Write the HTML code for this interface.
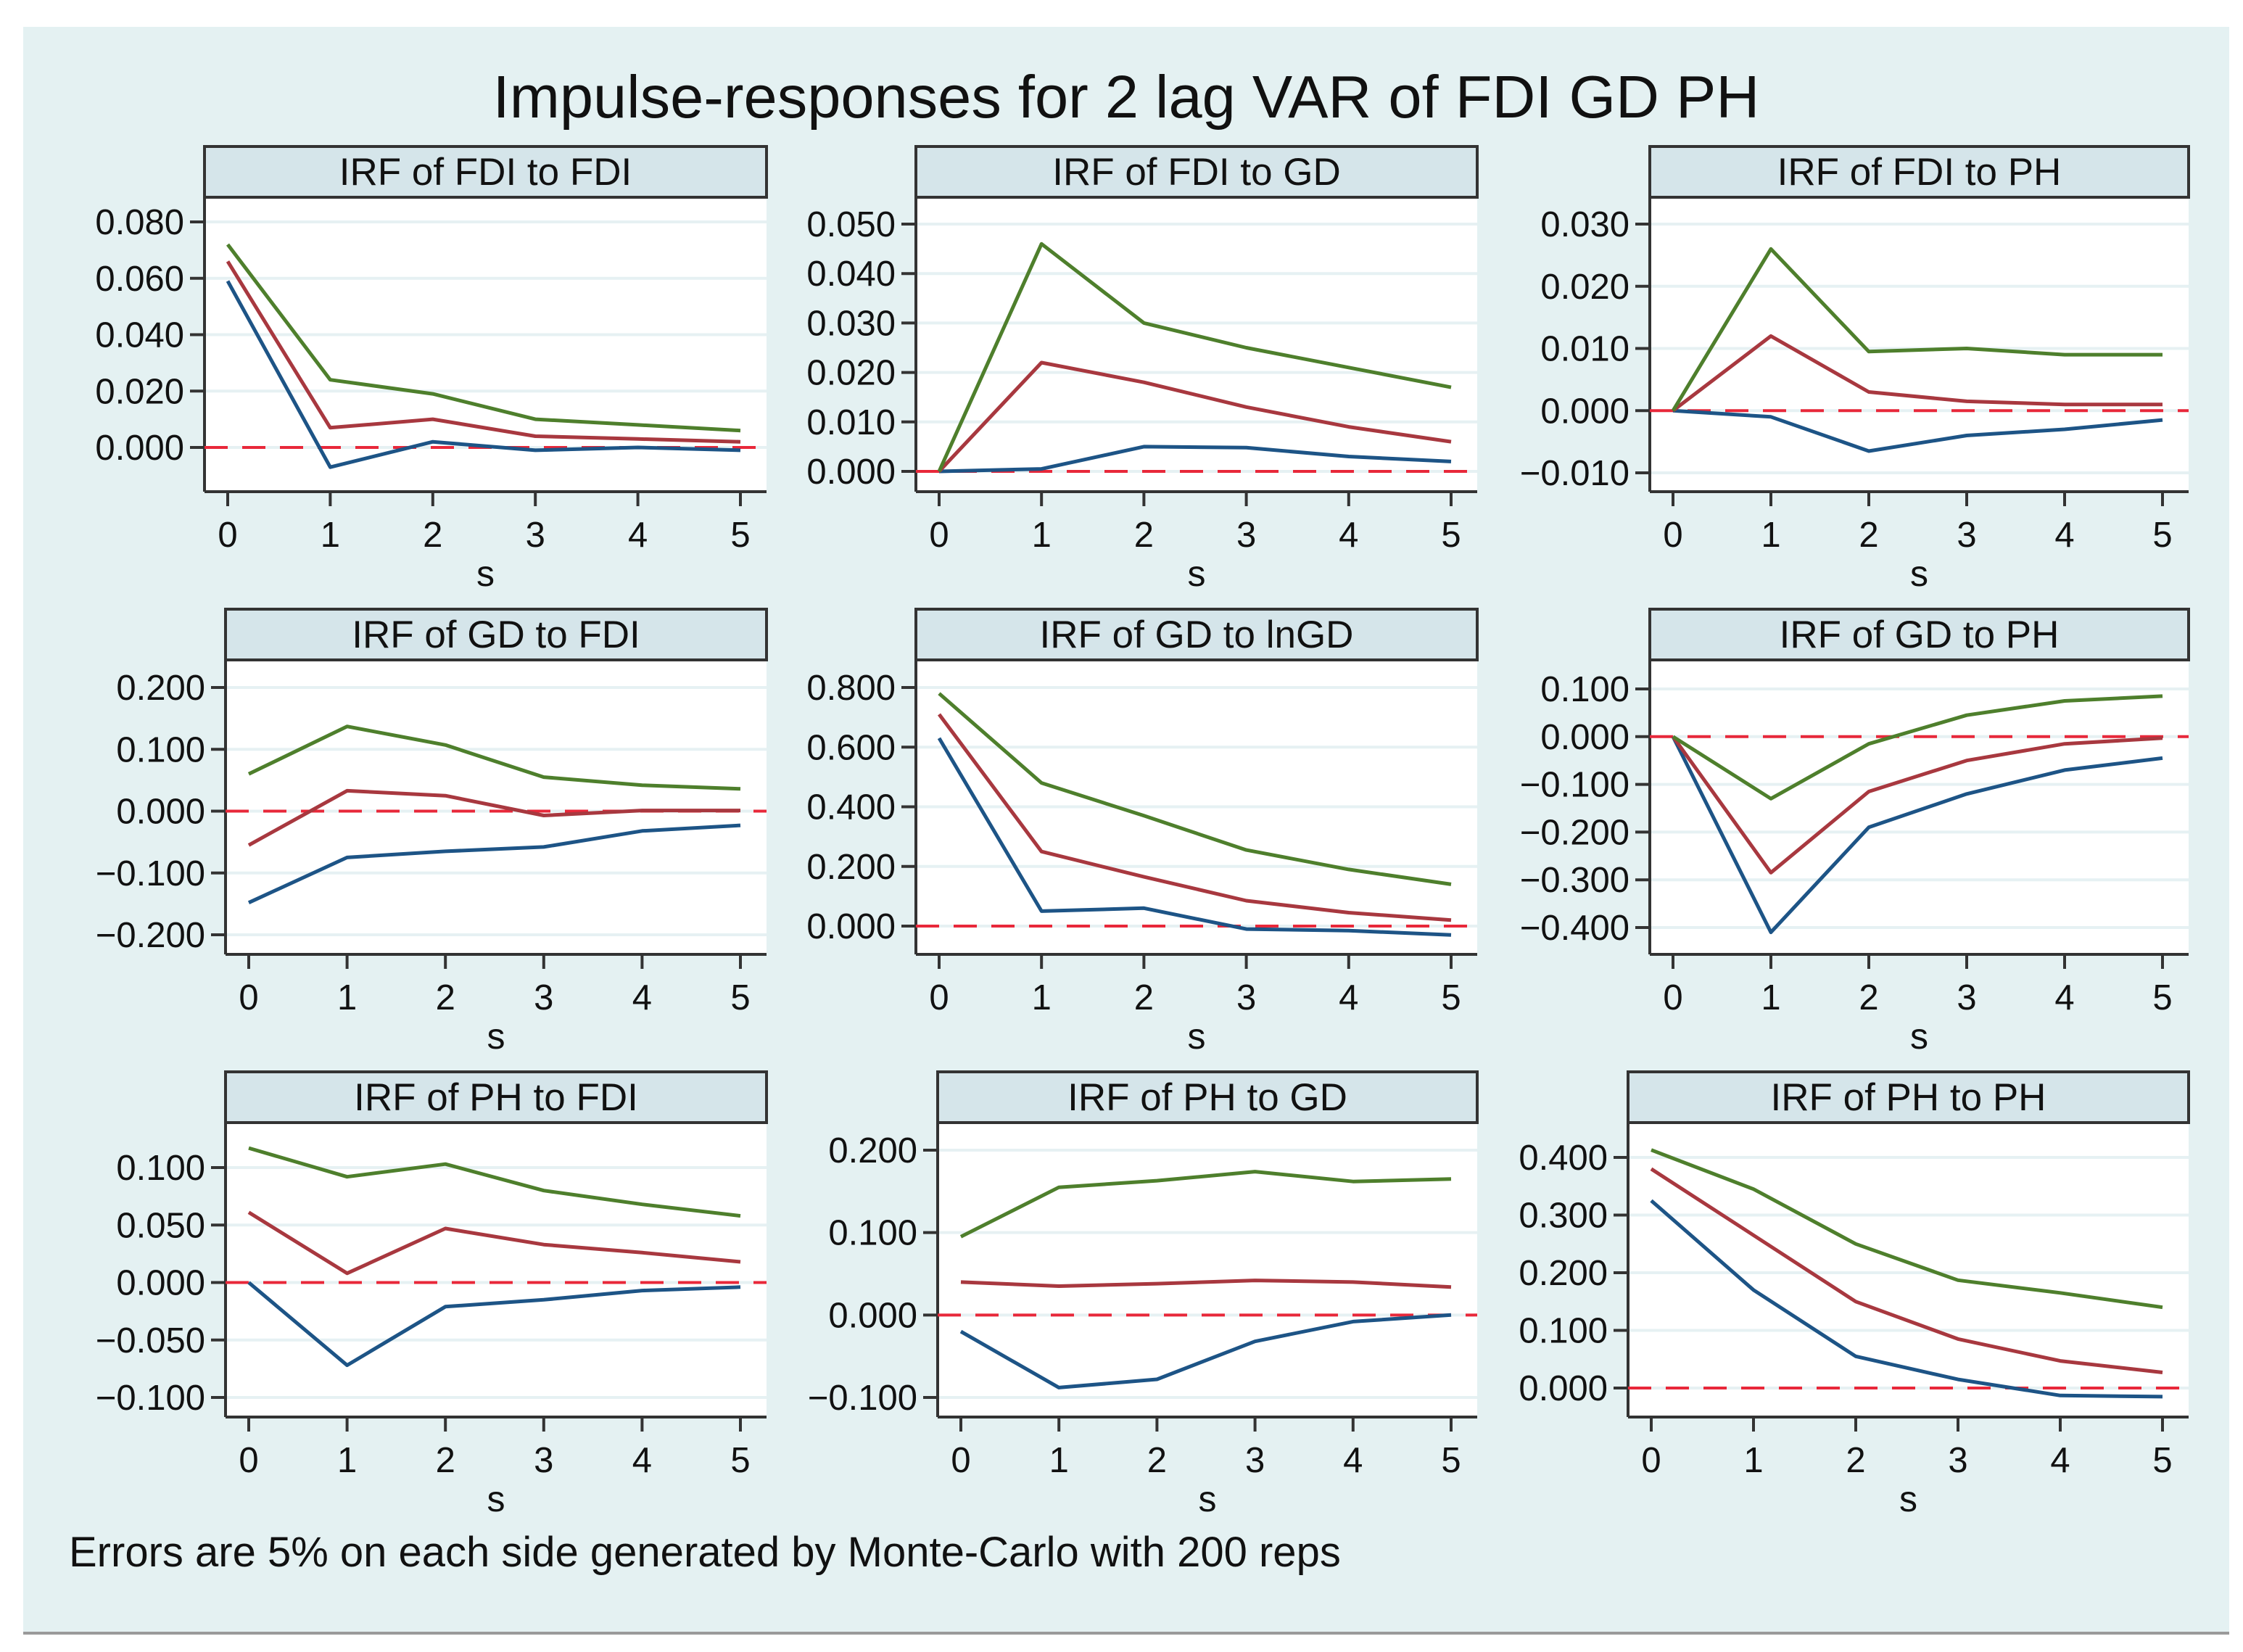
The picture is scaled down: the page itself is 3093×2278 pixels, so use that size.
<!DOCTYPE html>
<html><head><meta charset="utf-8"><style>
html,body{margin:0;padding:0;background:#fff}
svg{display:block;font-family:"Liberation Sans",Arial,sans-serif}
</style></head><body>
<svg id="chart" width="3093" height="2278" viewBox="0 0 3093 2278" xmlns="http://www.w3.org/2000/svg">
<rect x="32" y="37" width="3042" height="2214" fill="#e4f1f2"/>
<line x1="32" y1="2252" x2="3074" y2="2252" stroke="#9a9a9a" stroke-width="4"/>
<text x="1553" y="162" font-size="83" text-anchor="middle" fill="#111">Impulse-responses for 2 lag VAR of FDI GD PH</text>
<text x="95" y="2160" font-size="58" fill="#111">Errors are 5% on each side generated by Monte-Carlo with 200 reps</text>
<g id="panels"></g>
</svg>
<script>
const steps = [0,1,2,3,4,5];
const panelTitles = ["IRF of FDI to FDI","IRF of FDI to GD","IRF of FDI to PH","IRF of GD to FDI","IRF of GD to lnGD","IRF of GD to PH","IRF of PH to FDI","IRF of PH to GD","IRF of PH to PH"];
const tickFDItoFDI = [0,0.02,0.04,0.06,0.08];
const tickFDItoGD = [0,0.01,0.02,0.03,0.04,0.05];
const tickFDItoPH = [-0.01,0,0.01,0.02,0.03];
const tickGDtoFDI = [-0.2,-0.1,0,0.1,0.2];
const tickGDtoGD = [0,0.2,0.4,0.6,0.8];
const tickGDtoPH = [-0.4,-0.3,-0.2,-0.1,0,0.1];
const tickPHtoFDI = [-0.1,-0.05,0,0.05,0.1];
const tickPHtoGD = [-0.1,0,0.1,0.2];
const tickPHtoPH = [0,0.1,0.2,0.3,0.4];
// upper bound (green), irf (red), lower bound (blue)
const upperFDItoFDI = [0.072,0.024,0.019,0.010,0.008,0.006];
const irfFDItoFDI   = [0.066,0.007,0.010,0.004,0.003,0.002];
const lowerFDItoFDI = [0.059,-0.007,0.002,-0.001,0.000,-0.001];
const upperFDItoGD = [0,0.046,0.030,0.025,0.021,0.017];
const irfFDItoGD   = [0,0.022,0.018,0.013,0.009,0.006];
const lowerFDItoGD = [0,0.0005,0.005,0.0048,0.003,0.002];
const upperFDItoPH = [0,0.026,0.0095,0.010,0.009,0.009];
const irfFDItoPH   = [0,0.012,0.003,0.0015,0.001,0.001];
const lowerFDItoPH = [0,-0.001,-0.0065,-0.004,-0.003,-0.0015];
const upperGDtoFDI = [0.06,0.137,0.107,0.055,0.042,0.036];
const irfGDtoFDI   = [-0.055,0.033,0.025,-0.007,0.001,0.001];
const lowerGDtoFDI = [-0.148,-0.075,-0.065,-0.058,-0.032,-0.023];
const upperGDtoGD = [0.78,0.48,0.37,0.255,0.19,0.14];
const irfGDtoGD   = [0.71,0.25,0.165,0.085,0.045,0.02];
const lowerGDtoGD = [0.63,0.05,0.06,-0.01,-0.015,-0.03];
const upperGDtoPH = [0,-0.13,-0.015,0.045,0.075,0.085];
const irfGDtoPH   = [0,-0.285,-0.115,-0.05,-0.015,-0.003];
const lowerGDtoPH = [0,-0.41,-0.19,-0.12,-0.07,-0.045];
const upperPHtoFDI = [0.117,0.092,0.103,0.080,0.068,0.058];
const irfPHtoFDI   = [0.061,0.008,0.047,0.033,0.026,0.018];
const lowerPHtoFDI = [0,-0.072,-0.021,-0.015,-0.007,-0.004];
const upperPHtoGD = [0.095,0.155,0.163,0.174,0.162,0.165];
const irfPHtoGD   = [0.04,0.035,0.038,0.042,0.040,0.034];
const lowerPHtoGD = [-0.02,-0.088,-0.078,-0.032,-0.008,0];
const upperPHtoPH = [0.413,0.345,0.25,0.187,0.165,0.14];
const irfPHtoPH   = [0.38,0.265,0.15,0.085,0.047,0.027];
const lowerPHtoPH = [0.325,0.17,0.055,0.015,-0.013,-0.015];

const NS="http://www.w3.org/2000/svg";
const root=document.getElementById('panels');
function mk(tag,attrs,parent){const e=document.createElementNS(NS,tag);for(const k in attrs)e.setAttribute(k,attrs[k]);parent.appendChild(e);return e;}

const layout=[
 [282,1057,0,306,617],[1263,2037,0,309,650],[2275,3018,0,309,652],
 [311,1057,1,948,1289],[1263,2037,1,948,1277],[2275,3018,1,950,1279],
 [311,1057,2,1610,1927],[1293,2037,2,1586,1927],[2245,3018,2,1596,1914]];
const ticks=[tickFDItoFDI,tickFDItoGD,tickFDItoPH,tickGDtoFDI,tickGDtoGD,tickGDtoPH,tickPHtoFDI,tickPHtoGD,tickPHtoPH];
const uppers=[upperFDItoFDI,upperFDItoGD,upperFDItoPH,upperGDtoFDI,upperGDtoGD,upperGDtoPH,upperPHtoFDI,upperPHtoGD,upperPHtoPH];
const irfs=[irfFDItoFDI,irfFDItoGD,irfFDItoPH,irfGDtoFDI,irfGDtoGD,irfGDtoPH,irfPHtoFDI,irfPHtoGD,irfPHtoPH];
const lowers=[lowerFDItoFDI,lowerFDItoGD,lowerFDItoPH,lowerGDtoFDI,lowerGDtoGD,lowerGDtoPH,lowerPHtoFDI,lowerPHtoGD,lowerPHtoPH];

for(let p=0;p<9;p++){
  const [L,R,row,yTopPix,yBotPix]=layout[p];
  const off=row*638;
  const hTop=202+off, hBot=272+off, pBot=678+off;
  const tk=ticks[p];
  const vMin=tk[0], vMax=tk[tk.length-1];
  const y=v=>yBotPix+(v-vMin)/(vMax-vMin)*(yTopPix-yBotPix);
  const x0=L+32, x5=R-36;
  const x=s=>x0+(s-steps[0])/(steps[steps.length-1]-steps[0])*(x5-x0);
  const g=mk('g',{},root);
  
  
  const pa=mk('rect',{x:L,y:hBot,width:R-L,height:pBot-hBot,fill:'#fff'},g);
  
  
  const hd=mk('rect',{x:L,y:hTop,width:R-L,height:hBot-hTop,fill:'#d5e5ea',stroke:'#333',"stroke-width":4},g);
  
  
  const ht=mk('text',{x:(L+R)/2,y:hBot-17,"font-size":53,"text-anchor":"middle",fill:'#111'},g);
  ht.textContent=panelTitles[p];
  
  
  tk.forEach(v=>{
    const yy=y(v);
    const gl=mk('line',{x1:L,x2:R,y1:yy,y2:yy,stroke:'#e6f1f3',"stroke-width":4},g);
    
    
    const tl=mk('line',{x1:L-20,x2:L,y1:yy,y2:yy,stroke:'#333',"stroke-width":4},g);
    
    
    const lb=mk('text',{x:L-28,y:yy+17,"font-size":49,"text-anchor":"end",fill:'#111'},g);
    lb.textContent=(v<0?'\u2212':'')+Math.abs(v).toFixed(3);
    
    
  });
  const ya=mk('line',{x1:L,x2:L,y1:hBot,y2:pBot,stroke:'#333',"stroke-width":4},g);
  
  
  const xa=mk('line',{x1:L,x2:R,y1:pBot,y2:pBot,stroke:'#333',"stroke-width":4},g);
  
  
  steps.forEach(s=>{
    const xx=x(s);
    const t=mk('line',{x1:xx,x2:xx,y1:pBot,y2:pBot+20,stroke:'#333',"stroke-width":4},g);
    
    
    const lb=mk('text',{x:xx,y:pBot+76,"font-size":49,"text-anchor":"middle",fill:'#111'},g);
    lb.textContent=String(s);
    
    
  });
  const xt=mk('text',{x:(L+R)/2,y:pBot+130,"font-size":50,"text-anchor":"middle",fill:'#111'},g);
  xt.textContent='s';
  
  
  const z=mk('line',{x1:L,x2:R,y1:y(0),y2:y(0),stroke:'#e8283a',"stroke-width":4,"stroke-dasharray":"32,20"},g);
  
  
  const series=[[lowers[p],'#1d5486','lower-bound-line'],[irfs[p],'#a8383f','irf-line'],[uppers[p],'#4e7f2c','upper-bound-line']];
  series.forEach(([arr,col,nm])=>{
    const pts=arr.map((v,i)=>x(steps[i]).toFixed(1)+','+y(v).toFixed(1)).join(' ');
    const pl=mk('polyline',{points:pts,fill:'none',stroke:col,"stroke-width":5,"stroke-linejoin":"round"},g);
    
    
  });
}
</script>
</body></html>
